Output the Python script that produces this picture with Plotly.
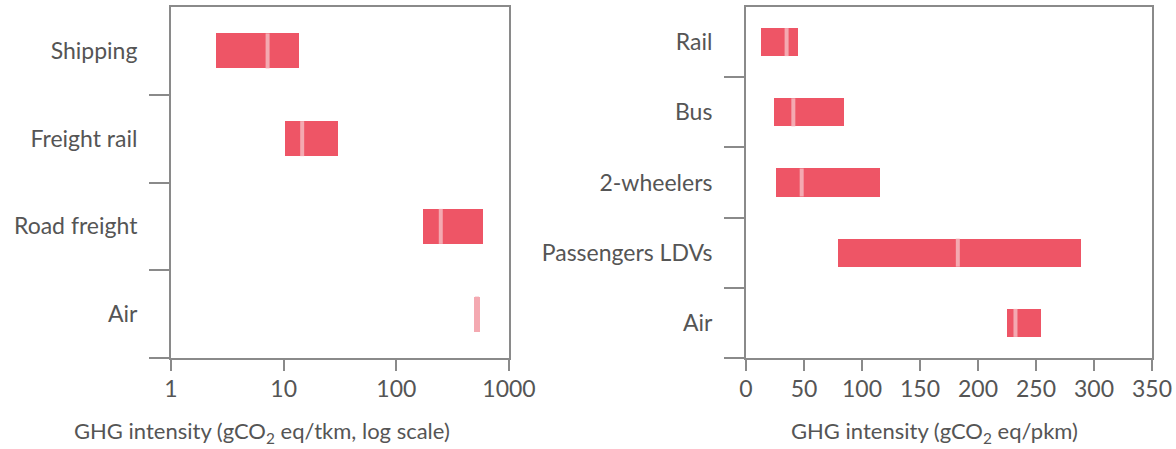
import plotly.graph_objects as go

# ---- data ----
freight_modes = ["Shipping", "Freight rail", "Road freight", "Air"]
freight_low = [2.5, 10.3, 171, 492]
freight_high = [13.7, 30.3, 585, 548]
freight_median = [7.2, 14.6, 248, 520]

passenger_modes = ["Rail", "Bus", "2-wheelers", "Passengers LDVs", "Air"]
passenger_low = [12.7, 24.4, 25.8, 79.5, 225.4]
passenger_high = [44.5, 84.1, 115.4, 289, 254]
passenger_median = [35, 40.8, 48, 182.6, 232.3]

freight_ticks = [1, 10, 100, 1000]
passenger_ticks = [0, 50, 100, 150, 200, 250, 300, 350]

# ---- style ----
RED = "#EE5566"
LIGHT = "#F4A9B1"
AXIS = "#8a8a8a"
TXT = "#555555"
FONT = "Lato"
W, H = 1176, 449

fig = go.Figure()

f_idx = list(range(len(freight_modes)))
p_idx = list(range(len(passenger_modes)))

fig.add_trace(go.Bar(
    y=f_idx, x=[h - l for l, h in zip(freight_low, freight_high)], base=freight_low,
    orientation="h", width=0.4,
    marker=dict(color=[RED, RED, RED, LIGHT], line=dict(width=0)),
    xaxis="x", yaxis="y", showlegend=False, hoverinfo="skip"))
fig.add_trace(go.Scatter(
    y=f_idx, x=freight_median, mode="markers",
    marker=dict(symbol="line-ns", size=25, line=dict(width=4, color=LIGHT)),
    xaxis="x", yaxis="y", showlegend=False, hoverinfo="skip"))

fig.add_trace(go.Bar(
    y=p_idx, x=[h - l for l, h in zip(passenger_low, passenger_high)], base=passenger_low,
    orientation="h", width=0.4,
    marker=dict(color=RED, line=dict(width=0)),
    xaxis="x2", yaxis="y2", showlegend=False, hoverinfo="skip"))
fig.add_trace(go.Scatter(
    y=p_idx, x=passenger_median, mode="markers",
    marker=dict(symbol="line-ns", size=20, line=dict(width=4, color=LIGHT)),
    xaxis="x2", yaxis="y2", showlegend=False, hoverinfo="skip"))

tickfont = dict(family=FONT, size=23, color=TXT)

def xaxis_common():
    return dict(showline=True, linecolor=AXIS, linewidth=2, mirror=True,
                ticks="outside", ticklen=11, tickwidth=2, tickcolor=AXIS,
                showgrid=False, zeroline=False, tickfont=tickfont,
                automargin=False, ticklabelstandoff=-2)

def yaxis_common(n):
    return dict(showline=True, linecolor=AXIS, linewidth=2, mirror=True,
                showgrid=False, zeroline=False, range=[n - 0.5, -0.5],
                tickmode="array", ticks="", tickfont=tickfont,
                ticklabelstandoff=27, automargin=False,
                minor=dict(tickmode="array",
                           tickvals=[i + 0.5 for i in range(n)],
                           ticks="outside", ticklen=20, tickwidth=2, tickcolor=AXIS,
                           showgrid=False))

y_top = 1 - 7 / H
y_bot = (H - 358) / H

xa = xaxis_common()
xa.update(type="log", range=[0, 3], tickvals=freight_ticks,
          ticktext=[str(t) for t in freight_ticks], domain=[171 / W, 509 / W], anchor="y")
xa2 = xaxis_common()
xa2.update(range=[0, 350], tickvals=passenger_ticks, domain=[746 / W, 1152 / W], anchor="y2")

ya = yaxis_common(len(freight_modes))
ya.update(tickvals=f_idx, ticktext=freight_modes, domain=[y_bot, y_top], anchor="x")
ya2 = yaxis_common(len(passenger_modes))
ya2.update(tickvals=p_idx, ticktext=passenger_modes, domain=[y_bot, y_top], anchor="x2")

fig.update_layout(
    width=W, height=H, margin=dict(l=0, r=0, t=0, b=0, autoexpand=False),
    paper_bgcolor="white", plot_bgcolor="white",
    xaxis=xa, xaxis2=xa2, yaxis=ya, yaxis2=ya2, bargap=0,
    annotations=[
        dict(text="GHG intensity (gCO<sub>2</sub> eq/tkm, log scale)", x=262 / W, y=(H - 432) / H,
             xref="paper", yref="paper", showarrow=False, xanchor="center", yanchor="middle",
             font=dict(family=FONT, size=22, color=TXT)),
        dict(text="GHG intensity (gCO<sub>2</sub> eq/pkm)", x=934 / W, y=(H - 432) / H,
             xref="paper", yref="paper", showarrow=False, xanchor="center", yanchor="middle",
             font=dict(family=FONT, size=22, color=TXT)),
    ],
)

fig.write_html("out.html")
